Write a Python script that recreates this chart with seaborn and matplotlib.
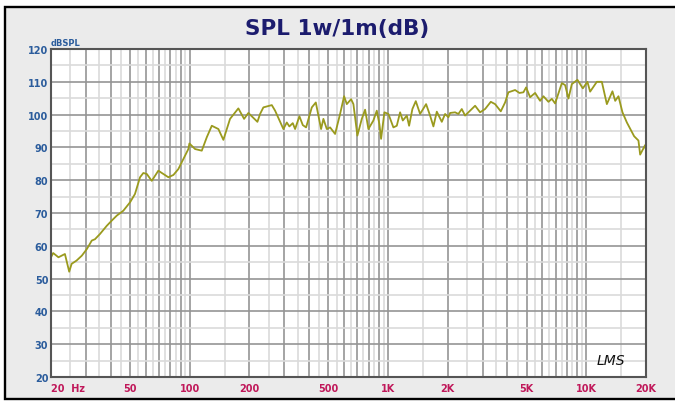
import numpy as np
import pandas as pd
import matplotlib
matplotlib.use("Agg")
import matplotlib.pyplot as plt
from matplotlib.patches import Rectangle
import seaborn as sns

# ---- data ----
freq_hz = [20, 20.2, 20.5, 21.8, 23.5, 24.7, 25.4, 26.9, 28.6, 30.3, 32.1, 33.3, 35.3, 38.2,
           40.5, 42.9, 46.3, 50.1, 53.0, 56.2, 58.4, 60.8, 64.4, 69.5, 73.7, 78.1, 82.8,
           87.7, 93.0, 98.5, 99.7, 106.5, 115.1, 122.0, 129.3, 139.6, 147.9, 159.8, 176.0,
           188.1, 197.7, 219.6, 226.5, 235.3, 259.5, 269.6, 296.9, 308.8, 318.2, 331.0,
           340.1, 357.5, 371.9, 386.4, 412.9, 432.5, 459.9, 472.4, 491.4, 510.6, 541.1,
           573.4, 600.7, 619.8, 651.6, 669.2, 700.9, 737.7, 766.6, 796.5, 843.9, 878.0,
           905.0, 922.9, 958.9, 1004.7, 1064.7, 1107.5, 1150.8, 1187.5, 1243.9, 1277.6,
           1327.4, 1380.8, 1451.5, 1556.3, 1630.2, 1694.0, 1762.2, 1867.5, 1940.6, 2016.3,
           2056.6, 2178.6, 2263.6, 2354.8, 2446.9, 2542.6, 2749.0, 2913.3, 3087.0, 3298.1,
           3467.1, 3703.8, 3894.2, 4046.0, 4374.0, 4598.3, 4817.2, 4970.4, 5205.9, 5517.0,
           5847.0, 6076.9, 6440.8, 6700.0, 6960.0, 7524.0, 7818.0, 8124.0, 8450.0, 9020.0,
           9600.0, 10125, 10450, 11295, 11970, 12690, 13540, 13980, 14520, 15210, 16010,
           17420, 18310, 18680, 19790, 20000]
spl_db = [56.5, 57.0, 57.8, 56.5, 57.5, 52.1, 54.5, 55.5, 57.0, 59.0, 61.6, 62.0, 63.6, 66.1,
          67.7, 69.2, 70.7, 73.3, 75.8, 80.9, 82.2, 81.9, 79.8, 82.9, 81.9, 80.9, 81.6,
          83.4, 86.5, 89.5, 91.2, 89.5, 89.0, 93.1, 96.6, 95.6, 92.3, 98.7, 101.9,
          98.7, 100.5, 97.8, 100.2, 102.2, 102.9, 101.2, 95.6, 97.6, 96.4, 97.4,
          95.6, 99.5, 96.8, 96.1, 102.2, 103.7, 95.6, 98.7, 95.6, 96.1, 94.1,
          100.2, 105.6, 103.2, 104.7, 103.2, 93.6, 98.7, 101.5, 95.6, 98.2, 101.2,
          97.1, 92.6, 100.7, 100.2, 96.1, 96.6, 100.7, 98.2, 99.7, 96.6,
          101.7, 104.1, 100.2, 103.2, 99.7, 96.4, 100.9, 97.8, 100.2, 99.2,
          100.5, 100.7, 100.2, 101.7, 99.7, 100.7, 102.7, 100.7, 101.7, 103.9,
          103.2, 101.0, 103.7, 106.8, 107.5, 106.6, 106.8, 108.3, 105.3, 106.6,
          104.2, 105.6, 103.9, 104.8, 103.4, 109.6, 109.0, 104.9, 109.3, 110.6,
          108.0, 110.0, 107.0, 110.0, 110.0, 103.2, 107.1, 104.2, 105.6, 100.7, 97.6,
          93.4, 92.1, 87.8, 90.7, 89.0]

y_major = list(range(20, 121, 10))
y_minor = list(range(25, 120, 10))
x_major = [20, 30, 40, 50, 60, 70, 80, 90,
           100, 200, 300, 400, 500, 600, 700, 800, 900,
           1000, 2000, 3000, 4000, 5000, 6000, 7000, 8000, 9000,
           10000, 20000]
x_minor = [25, 35, 45, 55, 65, 75, 85, 95,
           150, 250, 350, 450, 550, 650, 750, 850, 950,
           1500, 2500, 3500, 4500, 5500, 6500, 7500, 8500, 9500,
           15000]
x_labels = {20: "20  Hz", 50: "50", 100: "100", 200: "200", 500: "500", 1000: "1K",
            2000: "2K", 5000: "5K", 10000: "10K", 20000: "20K"}

title = "SPL 1w/1m(dB)"
unit = "dBSPL"

df = pd.DataFrame({"freq": freq_hz, "spl": spl_db})

sns.set_style("white")
plt.rcParams["font.family"] = ["DejaVu Sans"]

fig = plt.figure(figsize=(6.75, 4.02), dpi=100)
fig.patch.set_facecolor("white")
frame = Rectangle((0.0074, 0.005), 1.05, 0.975, transform=fig.transFigure,
                  facecolor="#ebebeb", edgecolor="black", linewidth=1.7, zorder=-10)
fig.patches.append(frame)

ax = fig.add_axes([0.0756, 0.0597, 0.8815, 0.8159])
ax.set_zorder(5)
ax.set_facecolor("white")
sns.lineplot(data=df, x="freq", y="spl", ax=ax, color="#9a9a1e", linewidth=1.3,
             estimator=None, sort=False)
ax.set_xscale("log")
ax.set_xlim(20, 20000)
ax.set_ylim(20, 120)

ax.set_xticks(x_major)
ax.set_xticklabels([x_labels.get(v, "") for v in x_major])
ax.set_xticks(x_minor, minor=True)
ax.set_xticklabels([], minor=True)
ax.set_yticks(y_major)
ax.set_yticks(y_minor, minor=True)

ax.grid(True, which="major", color="#959595", linewidth=1.2)
ax.grid(True, which="minor", color="#dadada", linewidth=1.2)
ax.set_axisbelow(True)
ax.tick_params(which="both", length=0)
ax.tick_params(axis="x", pad=4, labelsize=7, labelcolor="#c0185a")
ax.tick_params(axis="y", pad=2, labelsize=7, labelcolor="#2b5c9c")
for lab in ax.get_xticklabels() + ax.get_yticklabels():
    lab.set_fontweight("bold")
ax.get_xticklabels()[0].set_horizontalalignment("left")
ax.set_xlabel("")
ax.set_ylabel("")

for s in ax.spines.values():
    s.set_color("#555555")
    s.set_linewidth(1.5)

ax.text(0.0, 1.006, unit, transform=ax.transAxes, ha="left", va="bottom",
        fontsize=6, fontweight="bold", color="#2b5c9c")
fig.text(0.5, 0.929, title, ha="center", va="center", fontsize=15.5,
         fontweight="bold", color="#1c1c6e")
ax.text(0.965, 0.03, "LMS", transform=ax.transAxes, ha="right", va="bottom",
        fontsize=10, fontstyle="italic", color="#111111")

fig.savefig("out.png", dpi=100)
